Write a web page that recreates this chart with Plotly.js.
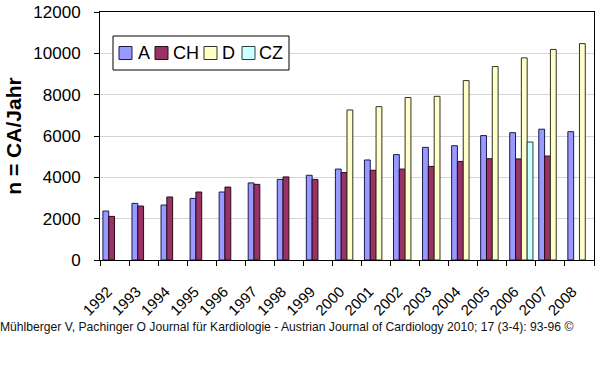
<!DOCTYPE html>
<html>
<head>
<meta charset="utf-8">
<script src="https://cdn.plot.ly/plotly-3.0.1.min.js"></script>
<style>html,body{margin:0;padding:0;background:#fff;}#chart{width:600px;height:377px;}</style>
</head>
<body>
<div id="chart"></div>
<script>
const years = ["1992","1993","1994","1995","1996","1997","1998","1999","2000","2001","2002","2003","2004","2005","2006","2007","2008"];
const valuesA  = [2370, 2740, 2660, 2980, 3290, 3730, 3900, 4100, 4400, 4840, 5100, 5450, 5530, 6020, 6160, 6330, 6210];
const valuesCH = [2110, 2610, 3050, 3290, 3530, 3660, 4020, 3900, 4230, 4340, 4400, 4530, 4770, 4900, 4890, 5030, null];
const valuesD  = [null, null, null, null, null, null, null, null, 7260, 7420, 7860, 7920, 8680, 9360, 9780, 10190, 10470];
const valuesCZ = [null, null, null, null, null, null, null, null, null, null, null, null, null, null, 5710, null, null];
const seriesNames = ["A", "CH", "D", "CZ"];
const yTicks = [0, 2000, 4000, 6000, 8000, 10000, 12000];

const fills = ["#9999FF", "#993366", "#FFFFCC", "#CCFFFF"];
const lines = ["#1a1a4d", "#2a0a1a", "#333322", "#224444"];
const allValues = [valuesA, valuesCH, valuesD, valuesCZ];

const traces = seriesNames.map((n, i) => ({
  type: "bar",
  name: n,
  x: years,
  y: allValues[i],
  marker: { color: fills[i], line: { color: lines[i], width: 1 } },
  hoverinfo: "x+y+name"
}));

// plot area in pixels (for legend placement)
const PL = 100, PR = 594, PT = 12, PB = 260;
const px = v => (v - PL) / (PR - PL);
const py = v => (PB - v) / (PB - PT);

const font = "Liberation Sans, Arial, sans-serif";

// custom legend (compact, Excel-like)
const legendBox = { x0: 113, x1: 289, y0: 36, y1: 70 };
const legSquareX = [119, 155, 204, 242];
const legTextX = [136, 171, 220, 257];
const legSq = 13, legMidY = 53;

const shapes = [{
  type: "rect", xref: "paper", yref: "paper",
  x0: px(legendBox.x0), x1: px(legendBox.x1), y0: py(legendBox.y1), y1: py(legendBox.y0),
  fillcolor: "#ffffff", line: { color: "#000", width: 1 }, layer: "above"
}];
const annotations = [];
seriesNames.forEach((n, i) => {
  shapes.push({
    type: "rect", xref: "paper", yref: "paper",
    x0: px(legSquareX[i]), x1: px(legSquareX[i] + legSq),
    y0: py(legMidY + legSq / 2), y1: py(legMidY - legSq / 2),
    fillcolor: fills[i], line: { color: lines[i], width: 1 }, layer: "above"
  });
  annotations.push({
    xref: "paper", yref: "paper", x: px(legTextX[i]), y: py(legMidY),
    xanchor: "left", yanchor: "middle", showarrow: false,
    text: n, font: { family: font, size: 18, color: "#000" }
  });
});
annotations.push({
  xref: "paper", yref: "paper",
  x: px(-2), y: py(327), xanchor: "left", yanchor: "middle",
  showarrow: false,
  text: "Mühlberger V, Pachinger O Journal für Kardiologie - Austrian Journal of Cardiology 2010; 17 (3-4): 93-96 ©",
  font: { family: font, size: 12.15, color: "#111" }
});

const layout = {
  width: 600, height: 377,
  margin: { l: 100, r: 6, t: 12, b: 117 },
  paper_bgcolor: "#ffffff",
  plot_bgcolor: "#ffffff",
  barmode: "group",
  bargap: 0.2,
  bargroupgap: 0,
  font: { family: font, color: "#000" },
  showlegend: false,
  xaxis: {
    type: "category",
    tickson: "boundaries",
    ticks: "outside", ticklen: 5, tickcolor: "#000",
    showline: true, linecolor: "#000", linewidth: 1, mirror: true,
    tickangle: -45,
    tickfont: { family: font, size: 15, color: "#000" },
    ticklabelstandoff: 16,
    ticklabelshift: -7,
    showgrid: false,
    automargin: false
  },
  yaxis: {
    range: [0, 12000],
    tickvals: yTicks,
    ticktext: yTicks.map(String),
    ticks: "outside", ticklen: 5, tickcolor: "#000",
    showline: true, linecolor: "#000", linewidth: 1, mirror: true,
    showgrid: true, gridcolor: "#d4d4d4", gridwidth: 1,
    zeroline: false,
    tickfont: { family: font, size: 17, color: "#000" },
    ticklabelstandoff: 10,
    title: { text: "<b>n = CA/Jahr</b>", font: { family: font, size: 21, color: "#000" }, standoff: 5 },
    automargin: false
  },
  shapes: shapes,
  annotations: annotations
};

Plotly.newPlot("chart", traces, layout, { displayModeBar: false, staticPlot: true });
</script>
</body>
</html>
